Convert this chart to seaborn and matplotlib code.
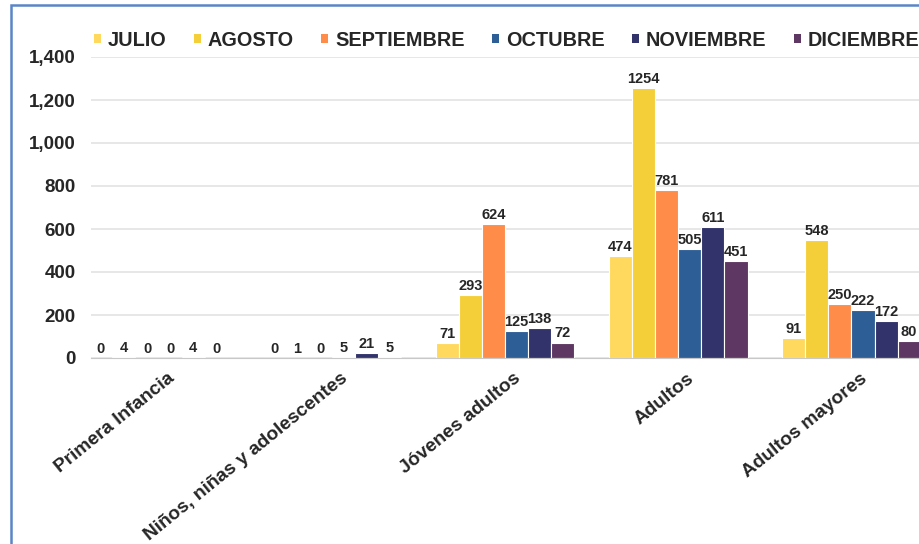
import pandas as pd
import numpy as np
import matplotlib
matplotlib.use("Agg")
import matplotlib.pyplot as plt
import matplotlib.transforms as mtransforms
from matplotlib.patches import Rectangle
from matplotlib.ticker import FuncFormatter
import seaborn as sns

grupos = ["Primera Infancia", "Niños, niñas y adolescentes", "Jóvenes adultos",
          "Adultos", "Adultos mayores"]
meses = ["JULIO", "AGOSTO", "SEPTIEMBRE", "OCTUBRE", "NOVIEMBRE", "DICIEMBRE"]

julio = [0, 0, 71, 474, 91]
agosto = [4, 1, 293, 1254, 548]
septiembre = [0, 0, 624, 781, 250]
octubre = [0, 5, 125, 505, 222]
noviembre = [4, 21, 138, 611, 172]
diciembre = [0, 5, 72, 451, 80]

colores = ["#FFD95E", "#F5CF3A", "#FF8C48", "#2E5E96", "#31336A", "#5E3863"]

valores = [julio, agosto, septiembre, octubre, noviembre, diciembre]
df = pd.DataFrame({
    "grupo": np.tile(grupos, len(meses)),
    "mes": np.repeat(meses, len(grupos)),
    "valor": np.concatenate(valores),
})

sns.set_style("white")
plt.rcParams["font.family"] = ["Liberation Sans", "DejaVu Sans"]

fig = plt.figure(figsize=(9.19, 5.44), dpi=100)
ax = fig.add_axes([91 / 919, (544 - 358) / 544, (919 - 91) / 919, (358 - 57) / 544])

sns.barplot(ax=ax, data=df, x="grupo", y="valor", hue="mes", order=grupos,
            hue_order=meses, palette=colores, width=0.8, edgecolor="white",
            linewidth=0.8, saturation=1, legend=True)

for c in ax.containers:
    ax.bar_label(c, padding=1.5, fontsize=10.5, fontweight="bold",
                 family=["Liberation Sans Narrow", "Liberation Sans"])

ax.set_ylim(0, 1400)
ax.set_xlim(-0.39, 4.39)
ax.set_yticks(range(0, 1401, 200))
ax.yaxis.set_major_formatter(FuncFormatter(lambda v, p: f"{int(v):,}"))
ax.grid(axis="y", color="#E3E3E3", linewidth=1.2)
ax.set_axisbelow(True)
for s in ["top", "right", "left"]:
    ax.spines[s].set_visible(False)
ax.spines["bottom"].set_color("#C8C8C8")
ax.tick_params(axis="both", length=0)
ax.tick_params(axis="y", pad=11, labelsize=13.5)
for t in ax.get_yticklabels():
    t.set_fontweight("bold")
ax.set_xlabel("")
ax.set_ylabel("")

offset = mtransforms.ScaledTranslation(8 / 100, -7 / 100, fig.dpi_scale_trans)
for t in ax.get_xticklabels():
    t.set_rotation(39)
    t.set_ha("right")
    t.set_va("top")
    t.set_rotation_mode("anchor")
    t.set_fontsize(13.8)
    t.set_fontweight("bold")
    t.set_transform(t.get_transform() + offset)

leg = ax.legend(loc="center left", bbox_to_anchor=(76 / 919, 1 - 40 / 544),
                bbox_transform=fig.transFigure, ncol=6, frameon=False,
                handlelength=0.35, handleheight=0.35, handletextpad=0.35,
                columnspacing=1.38, prop={"size": 14.3, "weight": "bold"})
for h in leg.legend_handles:
    h.set_edgecolor("none")

fig.patches.append(Rectangle((11 / 919, -0.1), 1.2, 1.1 - 5 / 544,
                             transform=fig.transFigure, fill=False,
                             edgecolor="#5B85C8", linewidth=1.8, zorder=10))

fig.savefig("out.png", dpi=100)
